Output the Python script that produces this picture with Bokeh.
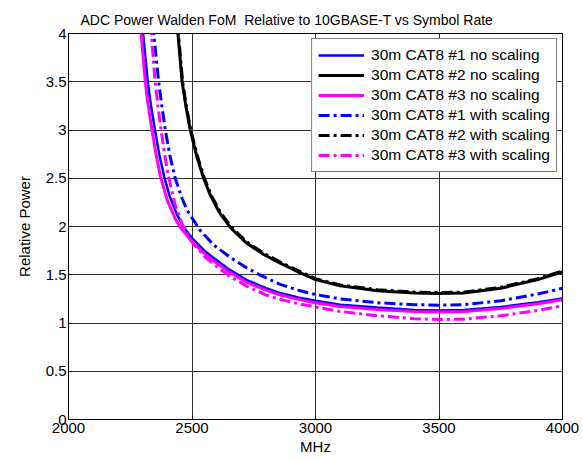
from bokeh.plotting import figure
from bokeh.models import Range1d, FixedTicker, CustomJSTickFormatter, Legend, LegendItem, Title
from bokeh.embed import file_html
from bokeh.resources import INLINE

# ---- data ----
# 30m CAT8 #1 no scaling
x_b1 = [2298, 2302, 2321, 2331, 2350, 2368, 2387, 2410, 2440, 2460, 2480, 2500, 2550, 2587, 2650, 2722, 2800, 2857, 2930, 3000, 3100, 3250, 3400, 3500, 3600, 3750, 3900, 4000]
y_b1 = [4.1, 4.0, 3.5, 3.3, 3.0, 2.74, 2.52, 2.31, 2.12, 2.02, 1.945, 1.88, 1.75, 1.675, 1.555, 1.445, 1.36, 1.31, 1.265, 1.23, 1.19, 1.16, 1.135, 1.13, 1.135, 1.165, 1.215, 1.255]
# 30m CAT8 #2 no scaling
x_k1 = [2440, 2443, 2460, 2475, 2493, 2520, 2547, 2575, 2610, 2655, 2720, 2790, 2857, 2930, 3000, 3100, 3250, 3400, 3500, 3600, 3750, 3900, 4000]
y_k1 = [4.1, 4.0, 3.5, 3.25, 3.0, 2.72, 2.5, 2.32, 2.15, 1.99, 1.83, 1.71, 1.62, 1.53, 1.45, 1.385, 1.335, 1.31, 1.305, 1.31, 1.36, 1.45, 1.53]
# 30m CAT8 #3 no scaling
x_m1 = [2290, 2294, 2311, 2320, 2338, 2355, 2372, 2400, 2432, 2450, 2470, 2500, 2550, 2587, 2650, 2722, 2800, 2857, 2930, 3000, 3100, 3250, 3400, 3500, 3600, 3750, 3900, 4000]
y_m1 = [4.1, 4.0, 3.5, 3.3, 3.0, 2.74, 2.52, 2.27, 2.08, 2.0, 1.935, 1.845, 1.72, 1.645, 1.53, 1.42, 1.34, 1.29, 1.245, 1.21, 1.17, 1.14, 1.12, 1.115, 1.12, 1.15, 1.2, 1.24]
# 30m CAT8 #1 with scaling
x_b2 = [2343, 2345, 2365, 2375, 2392, 2410, 2432, 2460, 2480, 2500, 2533, 2587, 2655, 2722, 2789, 2857, 2930, 3000, 3100, 3250, 3400, 3500, 3600, 3750, 3900, 4000]
y_b2 = [4.1, 4.0, 3.5, 3.3, 3.0, 2.74, 2.5, 2.29, 2.17, 2.09, 1.96, 1.81, 1.68, 1.57, 1.48, 1.40, 1.34, 1.295, 1.25, 1.21, 1.19, 1.185, 1.19, 1.23, 1.30, 1.36]
# 30m CAT8 #2 with scaling
x_k2 = [2442, 2445, 2462, 2477, 2495, 2522, 2549, 2577, 2612, 2657, 2722, 2792, 2859, 2932, 3000, 3100, 3250, 3400, 3500, 3600, 3750, 3900, 4000]
y_k2 = [4.1, 4.0, 3.5, 3.25, 3.0, 2.73, 2.51, 2.33, 2.16, 2.0, 1.84, 1.72, 1.63, 1.54, 1.46, 1.395, 1.345, 1.32, 1.315, 1.32, 1.37, 1.46, 1.54]
# 30m CAT8 #3 with scaling
x_m2 = [2333, 2335, 2350, 2362, 2375, 2388, 2403, 2430, 2459, 2480, 2500, 2550, 2587, 2650, 2722, 2800, 2857, 2930, 3000, 3100, 3250, 3400, 3500, 3600, 3750, 3900, 4000]
y_m2 = [4.1, 4.0, 3.52, 3.25, 3.0, 2.77, 2.54, 2.24, 2.03, 1.92, 1.84, 1.69, 1.61, 1.49, 1.38, 1.29, 1.245, 1.2, 1.165, 1.12, 1.075, 1.045, 1.035, 1.04, 1.075, 1.13, 1.18]

labels = ["30m CAT8 #1 no scaling", "30m CAT8 #2 no scaling", "30m CAT8 #3 no scaling",
          "30m CAT8 #1 with scaling", "30m CAT8 #2 with scaling", "30m CAT8 #3 with scaling"]
x_ticks = [2000, 2500, 3000, 3500, 4000]
y_ticks = [0, 0.5, 1, 1.5, 2, 2.5, 3, 3.5, 4]

title_text = "ADC Power Walden FoM\u00a0 Relative to 10GBASE-T vs Symbol Rate"
x_label = "MHz"
y_label = "Relative Power"

FONT = "Liberation Sans"

p = figure(width=583, height=461, output_backend="svg", toolbar_location=None,
           x_range=Range1d(2000, 4000), y_range=Range1d(0, 4),
           min_border_left=68, min_border_right=21, min_border_top=33, min_border_bottom=42)
p.title = None
p.add_layout(Title(text=title_text, text_font=FONT, text_font_size="14px", text_font_style="normal",
                   text_color="black", align="left", offset=12, standoff=11), "above")

p.background_fill_color = "white"
p.border_fill_color = "white"
p.outline_line_color = "black"
p.outline_line_width = 1

for ax in (p.xaxis[0], p.yaxis[0]):
    ax.axis_line_color = "black"
    ax.major_tick_in = 4
    ax.major_tick_out = 0
    ax.minor_tick_line_color = None
    ax.major_label_text_font = FONT
    ax.major_label_text_font_size = "15px"
    ax.major_label_text_color = "black"
    ax.axis_label_text_font = FONT
    ax.axis_label_text_font_size = "15px"
    ax.axis_label_text_font_style = "normal"
    ax.axis_label_text_color = "black"

p.xaxis[0].ticker = FixedTicker(ticks=x_ticks)
p.yaxis[0].ticker = FixedTicker(ticks=y_ticks)
p.yaxis[0].formatter = CustomJSTickFormatter(code="return String(Math.round(tick*10)/10);")
p.xaxis[0].axis_label = x_label
p.yaxis[0].axis_label = y_label
p.xaxis[0].major_label_standoff = 3
p.yaxis[0].major_label_standoff = 2
p.xaxis[0].axis_label_standoff = 2
p.yaxis[0].axis_label_standoff = 10

p.xgrid.grid_line_color = "#333333"
p.ygrid.grid_line_color = "#333333"
p.xgrid.grid_line_width = 1
p.ygrid.grid_line_width = 1

dash = "11 4 3 4"
r1 = p.line(x_b1, y_b1, line_color="#0000ff", line_width=2.5)
r2 = p.line(x_k1, y_k1, line_color="black", line_width=3)
r3 = p.line(x_m1, y_m1, line_color="#ff00ff", line_width=3)
r4 = p.line(x_b2, y_b2, line_color="#0000ff", line_width=3, line_dash=dash)
r5 = p.line(x_k2, y_k2, line_color="black", line_width=3, line_dash=dash)
r6 = p.line(x_m2, y_m2, line_color="#ff00ff", line_width=3, line_dash=dash)

legend = Legend(items=[LegendItem(label=l, renderers=[r]) for l, r in zip(labels, [r1, r2, r3, r4, r5, r6])],
                location="top_right", margin=5, padding=6, spacing=0,
                label_height=20, glyph_height=20, glyph_width=46, label_standoff=7,
                label_text_font=FONT, label_text_font_size="15.5px", label_text_color="black",
                border_line_color="black", border_line_width=1, background_fill_color="white",
                background_fill_alpha=1)
p.add_layout(legend)

open("out.html", "w").write(file_html(p, INLINE))
